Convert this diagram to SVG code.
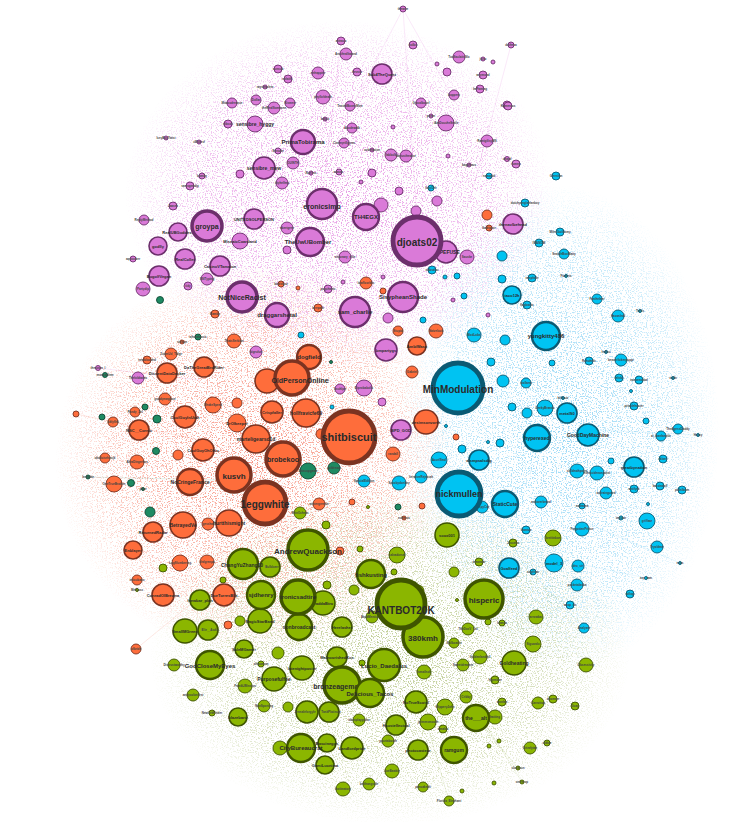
<svg xmlns="http://www.w3.org/2000/svg" width="755" height="822" viewBox="0 0 755 822">
<style>
.p{fill:#da7ad8;stroke:#6c2f6c}
.o{fill:#fe6d3b;stroke:#7b3321}
.b{fill:#00c3f2;stroke:#0b5a73}
.g{fill:#8bb600;stroke:#3f5500}
.t{fill:#1f8a62;stroke:#0f4a35}
circle{stroke-width:0.9}
.w2{stroke-width:1.6}.w3{stroke-width:2.4}.w4{stroke-width:3.5}.w5{stroke-width:4.8}
text{font-family:"Liberation Sans",Arial,sans-serif;font-weight:bold;fill:#2a2a2a;text-anchor:middle;dominant-baseline:central}
.f3{font-size:3px;fill:#444}.f4{font-size:4px}.f5{font-size:5px}.f6{font-size:6px}.f7{font-size:7px}.f8{font-size:8px}.f9{font-size:9px}.f10{font-size:10px}.f11{font-size:11px}
#edges line{stroke-width:0.5;stroke-opacity:0.25}
</style>
<defs>
<filter id="sP" filterUnits="userSpaceOnUse" x="0" y="0" width="755" height="822"><feTurbulence type="fractalNoise" baseFrequency="0.8" numOctaves="2" seed="3" result="n"/><feColorMatrix in="n" type="matrix" values="0 0 0 0 0 0 0 0 0 0 0 0 0 0 0 8 0 0 0 -4.3" result="m"/><feComposite in="SourceGraphic" in2="m" operator="in"/></filter>
<filter id="sO" filterUnits="userSpaceOnUse" x="0" y="0" width="755" height="822"><feTurbulence type="fractalNoise" baseFrequency="0.8" numOctaves="2" seed="11" result="n"/><feColorMatrix in="n" type="matrix" values="0 0 0 0 0 0 0 0 0 0 0 0 0 0 0 8 0 0 0 -4.3" result="m"/><feComposite in="SourceGraphic" in2="m" operator="in"/></filter>
<filter id="sB" filterUnits="userSpaceOnUse" x="0" y="0" width="755" height="822"><feTurbulence type="fractalNoise" baseFrequency="0.8" numOctaves="2" seed="23" result="n"/><feColorMatrix in="n" type="matrix" values="0 0 0 0 0 0 0 0 0 0 0 0 0 0 0 8 0 0 0 -4.3" result="m"/><feComposite in="SourceGraphic" in2="m" operator="in"/></filter>
<filter id="sG" filterUnits="userSpaceOnUse" x="0" y="0" width="755" height="822"><feTurbulence type="fractalNoise" baseFrequency="0.8" numOctaves="2" seed="37" result="n"/><feColorMatrix in="n" type="matrix" values="0 0 0 0 0 0 0 0 0 0 0 0 0 0 0 8 0 0 0 -4.3" result="m"/><feComposite in="SourceGraphic" in2="m" operator="in"/></filter>
<radialGradient id="gP"><stop offset="0" stop-color="#d85ad4" stop-opacity="0.6"/><stop offset="0.7" stop-color="#d85ad4" stop-opacity="0.35"/><stop offset="1" stop-color="#d85ad4" stop-opacity="0"/></radialGradient>
<radialGradient id="gO"><stop offset="0" stop-color="#f24a2c" stop-opacity="0.6"/><stop offset="0.7" stop-color="#f24a2c" stop-opacity="0.32"/><stop offset="1" stop-color="#f24a2c" stop-opacity="0"/></radialGradient>
<radialGradient id="gB"><stop offset="0" stop-color="#44b8ee" stop-opacity="0.55"/><stop offset="0.7" stop-color="#44b8ee" stop-opacity="0.3"/><stop offset="1" stop-color="#44b8ee" stop-opacity="0"/></radialGradient>
<radialGradient id="gG"><stop offset="0" stop-color="#90a848" stop-opacity="0.6"/><stop offset="0.7" stop-color="#90a848" stop-opacity="0.32"/><stop offset="1" stop-color="#90a848" stop-opacity="0"/></radialGradient>
</defs>
<rect width="755" height="822" fill="#ffffff"/>
<g id="cloud">
<ellipse cx="340" cy="195" rx="215" ry="175" fill="url(#gP)" filter="url(#sP)"/>
<ellipse cx="255" cy="460" rx="200" ry="195" fill="url(#gO)" filter="url(#sO)"/>
<ellipse cx="560" cy="430" rx="160" ry="245" fill="url(#gB)" filter="url(#sB)"/>
<ellipse cx="390" cy="655" rx="240" ry="170" fill="url(#gG)" filter="url(#sG)"/>
</g>
<g id="edges">
<line x1="403" y1="9" x2="350" y2="110" stroke="#d64fd0"/>
<line x1="403" y1="9" x2="460" y2="110" stroke="#d64fd0"/>
<line x1="403" y1="9" x2="417" y2="220" stroke="#d64fd0"/>
<line x1="341" y1="41" x2="322" y2="200" stroke="#d64fd0"/>
<line x1="511" y1="45" x2="470" y2="200" stroke="#d64fd0"/>
<line x1="166" y1="138" x2="250" y2="240" stroke="#d64fd0"/>
<line x1="199" y1="142" x2="262" y2="230" stroke="#d64fd0"/>
<line x1="98" y1="368" x2="200" y2="380" stroke="#d64fd0"/>
<line x1="76" y1="414" x2="200" y2="440" stroke="#f2452a"/>
<line x1="88" y1="477" x2="220" y2="480" stroke="#1f8a62"/>
<line x1="136" y1="649" x2="220" y2="580" stroke="#f2452a"/>
<line x1="698" y1="435" x2="600" y2="430" stroke="#3cb6ee"/>
<line x1="680" y1="563" x2="580" y2="520" stroke="#3cb6ee"/>
<line x1="646" y1="578" x2="560" y2="560" stroke="#3cb6ee"/>
<line x1="584" y1="628" x2="520" y2="560" stroke="#3cb6ee"/>
<line x1="449" y1="801" x2="420" y2="700" stroke="#8aa43a"/>
<line x1="522" y1="782" x2="470" y2="700" stroke="#8aa43a"/>
<line x1="518" y1="768" x2="476" y2="718" stroke="#8aa43a"/>
</g>
<g id="nodes">
<g id="p46"><circle class="p" cx="403" cy="9" r="3"/><text class="f3" x="403" y="9">thewire</text></g>
<g id="p47"><circle class="p" cx="341" cy="41" r="4"/><text class="f3" x="341" y="41">minaco</text></g>
<g id="p48"><circle class="p" cx="413" cy="45" r="4"/><text class="f3" x="413" y="45">kolbo</text></g>
<g id="p91"><circle class="p" cx="511" cy="45" r="3"/><text class="f3" x="511" y="45">dothesa</text></g>
<g id="p51"><circle class="p" cx="483" cy="59" r="2"/><text class="f3" x="483" y="59">jivsu</text></g>
<g id="p52"><circle class="p" cx="493" cy="62" r="2"/></g>
<g id="p53"><circle class="p" cx="437" cy="64" r="2"/></g>
<g id="p35"><circle class="p" cx="278" cy="69" r="4"/><text class="f3" x="278" y="69">sunsub</text></g>
<g id="p36"><circle class="p" cx="288" cy="79" r="4"/><text class="f3" x="288" y="79">nofaith_</text></g>
<g id="p37"><circle class="p" cx="265" cy="87" r="2"/><text class="f3" x="265" y="87">raysimplem</text></g>
<g id="p55"><circle class="p" cx="357" cy="72" r="4"/><text class="f3" x="357" y="72">hevsto</text></g>
<g id="p57"><circle class="p" cx="447" cy="72" r="4"/></g>
<g id="p58"><circle class="p" cx="483" cy="75" r="4"/><text class="f3" x="483" y="75">wrymond</text></g>
<g id="p63"><circle class="p" cx="480" cy="89" r="4"/><text class="f3" x="480" y="89">ImFaming</text></g>
<g id="p64"><circle class="p" cx="507" cy="105" r="4"/></g>
<g id="p92"><circle class="p" cx="508" cy="106" r="4"/><text class="f3" x="508" y="106">Kamerous</text></g>
<g id="p67"><circle class="p" cx="393" cy="127" r="2"/></g>
<g id="p68"><circle class="p" cx="431" cy="116" r="2"/><text class="f3" x="431" y="116">pezzn</text></g>
<g id="p70"><circle class="p" cx="325" cy="119" r="2"/><text class="f3" x="325" y="119">ladpix</text></g>
<g id="p72"><circle class="p" cx="372" cy="150" r="2"/><text class="f3" x="372" y="150">ovdrnaxion</text></g>
<g id="p75"><circle class="p" cx="448" cy="156" r="2"/></g>
<g id="p76"><circle class="p" cx="469" cy="165" r="2"/><text class="f3" x="469" y="165">bagohaus</text></g>
<g id="p78"><circle class="p" cx="507" cy="159" r="2.5"/><text class="f3" x="507" y="159">chayd</text></g>
<g id="p79"><circle class="p" cx="516" cy="164" r="4"/><text class="f3" x="516" y="164">fumep</text></g>
<g id="p81"><circle class="p" cx="311" cy="173" r="2"/><text class="f3" x="311" y="173">Nuelrvs</text></g>
<g id="p82"><circle class="p" cx="339" cy="172" r="3"/><text class="f3" x="339" y="172">aoauw_</text></g>
<g id="p83"><circle class="p" cx="372" cy="173" r="4"/></g>
<g id="p84"><circle class="p" cx="361" cy="182" r="2"/></g>
<g id="p86"><circle class="p" cx="399" cy="191" r="4"/></g>
<g id="p87"><circle class="p" cx="437" cy="201" r="5"/></g>
<g id="p89"><circle class="p" cx="416" cy="211" r="5"/></g>
<g id="p38"><circle class="p" cx="166" cy="138" r="2"/><text class="f3" x="166" y="138">IceyBoyTwist</text></g>
<g id="p39"><circle class="p" cx="199" cy="142" r="2"/><text class="f3" x="199" y="142">cWotesf</text></g>
<g id="p40"><circle class="p" cx="278" cy="151" r="3"/><text class="f3" x="278" y="151">Sinsuke</text></g>
<g id="p41"><circle class="p" cx="240" cy="174" r="4"/></g>
<g id="p43"><circle class="p" cx="202" cy="176" r="3"/><text class="f3" x="202" y="176">bomby</text></g>
<g id="p44"><circle class="p" cx="190" cy="186" r="4"/><text class="f3" x="190" y="186">samvgmidtp</text></g>
<g id="p24"><circle class="p" cx="173" cy="206" r="4"/><text class="f3" x="173" y="206">Jaasek</text></g>
<g id="p25"><circle class="p" cx="133" cy="259" r="3"/><text class="f3" x="133" y="259">aqstocker</text></g>
<g id="p28"><circle class="p" cx="98" cy="368" r="2.5"/><text class="f3" x="98" y="368">thesovm_l</text></g>
<g id="p95"><circle class="p" cx="287" cy="250" r="4"/></g>
<g id="p97"><circle class="p" cx="383" cy="277" r="2"/></g>
<g id="p98"><circle class="p" cx="343" cy="282" r="2"/></g>
<g id="p100"><circle class="p" cx="453" cy="300" r="2"/></g>
<g id="p101"><circle class="p" cx="488" cy="315" r="2"/></g>
<g id="p102"><circle class="p" cx="388" cy="318" r="5"/></g>
<g id="p106"><circle class="p" cx="382" cy="402" r="4"/></g>
<g id="o18"><circle class="o" cx="76" cy="414" r="3"/></g>
<g id="o39"><circle class="o" cx="182" cy="342" r="2"/><text class="f3" x="182" y="342">sizlapn</text></g>
<g id="o38"><circle class="o" cx="281" cy="284" r="3"/><text class="f3" x="281" y="284">bizdsfgsz</text></g>
<g id="o37"><circle class="o" cx="215" cy="314" r="4"/><text class="f3" x="215" y="314">Bamby</text></g>
<g id="o41"><circle class="o" cx="147" cy="360" r="4"/><text class="f3" x="147" y="360">newblooded</text></g>
<g id="o49"><circle class="o" cx="321" cy="434" r="5"/></g>
<g id="o52"><circle class="o" cx="456" cy="437" r="3"/></g>
<g id="o54"><circle class="o" cx="352" cy="502" r="3"/></g>
<g id="o55"><circle class="o" cx="422" cy="506" r="3"/></g>
<g id="o56"><circle class="o" cx="404" cy="518" r="2"/><text class="f3" x="404" y="518">noheros</text></g>
<g id="o57"><circle class="o" cx="340" cy="551" r="4"/></g>
<g id="o59"><circle class="o" cx="383" cy="291" r="3"/></g>
<g id="o60"><circle class="o" cx="298" cy="288" r="2"/></g>
<g id="o62"><circle class="o" cx="318" cy="308" r="4"/><text class="f3" x="318" y="308">brrrpath</text></g>
<g id="o63"><circle class="o" cx="398" cy="331" r="5"/><text class="f3" x="398" y="331">Stupid</text></g>
<g id="o67"><circle class="o" cx="487" cy="215" r="5"/></g>
<g id="o68"><circle class="o" cx="489" cy="228" r="3"/><text class="f3" x="489" y="228">Ibaktpoor</text></g>
<g id="o34"><circle class="o" cx="228" cy="625" r="4"/></g>
<g id="o35"><circle class="o" cx="136" cy="649" r="5"/><text class="f3" x="136" y="649">ofbride</text></g>
<g id="o31"><circle class="o" cx="137" cy="580" r="5"/><text class="f3" x="137" y="580">ieticubano</text></g>
<g id="t3"><circle class="t" cx="160" cy="300" r="3.5"/></g>
<g id="t4"><circle class="t" cx="198" cy="337" r="3"/><text class="f3" x="198" y="337">whoralcosis</text></g>
<g id="t5"><circle class="t" cx="105" cy="375" r="2.5"/><text class="f3" x="105" y="375">monooblem</text></g>
<g id="t6"><circle class="t" cx="145" cy="407" r="3"/></g>
<g id="t7"><circle class="t" cx="102" cy="417" r="3"/></g>
<g id="t8"><circle class="t" cx="157" cy="419" r="4"/></g>
<g id="t9"><circle class="t" cx="156" cy="451" r="3.5"/></g>
<g id="t10"><circle class="t" cx="131" cy="483" r="3.5"/></g>
<g id="t11"><circle class="t" cx="88" cy="477" r="2"/><text class="f3" x="88" y="477">lenfydar</text></g>
<g id="t12"><circle class="t" cx="143" cy="489" r="1.5"/><text class="f3" x="143" y="489">phoe</text></g>
<g id="t13"><circle class="t" cx="150" cy="512" r="5"/></g>
<g id="t14"><circle class="t" cx="398" cy="507" r="3"/></g>
<g id="t15"><circle class="t" cx="331" cy="362" r="1.5"/></g>
<g id="b10"><circle class="b" cx="512" cy="407" r="4"/></g>
<g id="b11"><circle class="b" cx="527" cy="413" r="5"/></g>
<g id="b12"><circle class="b" cx="634" cy="406" r="4"/><text class="f3" x="634" y="406">prinplehuster</text></g>
<g id="b13"><circle class="b" cx="646" cy="421" r="3"/></g>
<g id="b14"><circle class="b" cx="661" cy="436" r="5"/><text class="f3" x="661" y="436">ai_ibanfanstle</text></g>
<g id="b15"><circle class="b" cx="678" cy="429" r="5"/><text class="f3" x="678" y="429">TheAgessDaddy</text></g>
<g id="b16"><circle class="b" cx="698" cy="435" r="1.5"/><text class="f3" x="698" y="435">Hnroy</text></g>
<g id="b17"><circle class="b" cx="611" cy="461" r="3"/></g>
<g id="b19"><circle class="b" cx="663" cy="459" r="4"/><text class="f3" x="663" y="459">rkloer</text></g>
<g id="b23"><circle class="b" cx="634" cy="489" r="4"/><text class="f3" x="634" y="489">antifyrk</text></g>
<g id="b24"><circle class="b" cx="660" cy="486" r="4"/><text class="f3" x="660" y="486">kassindoll</text></g>
<g id="b25"><circle class="b" cx="682" cy="490" r="4"/><text class="f3" x="682" y="490">pixlnlbom</text></g>
<g id="b27"><circle class="b" cx="582" cy="506" r="3"/><text class="f3" x="582" y="506">nodrama</text></g>
<g id="b28"><circle class="b" cx="648" cy="504" r="1.5"/></g>
<g id="b29"><circle class="b" cx="621" cy="518" r="2"/><text class="f3" x="621" y="518">tmjutar</text></g>
<g id="b31"><circle class="b" cx="526" cy="530" r="4"/><text class="f3" x="526" y="530">thanivo</text></g>
<g id="b35"><circle class="b" cx="533" cy="572" r="3"/><text class="f3" x="533" y="572">oogfitan</text></g>
<g id="b39"><circle class="b" cx="680" cy="563" r="1.5"/><text class="f3" x="680" y="563">exos</text></g>
<g id="b40"><circle class="b" cx="646" cy="578" r="1.5"/><text class="f3" x="646" y="578">asy_tam</text></g>
<g id="b41"><circle class="b" cx="630" cy="594" r="4"/><text class="f3" x="630" y="594">atflop</text></g>
<g id="b42"><circle class="b" cx="570" cy="605" r="4"/><text class="f3" x="570" y="605">wasp_ds</text></g>
<g id="b43"><circle class="b" cx="584" cy="628" r="5"/><text class="f3" x="584" y="628">Analyzer</text></g>
<g id="b44"><circle class="b" cx="525" cy="203" r="4"/><text class="f3" x="525" y="203">dutchyanglarfanboy</text></g>
<g id="b45"><circle class="b" cx="560" cy="232" r="4"/><text class="f3" x="560" y="232">MilesGuildsmy</text></g>
<g id="b46"><circle class="b" cx="539" cy="243" r="4"/><text class="f3" x="539" y="243">IWASOW</text></g>
<g id="b47"><circle class="b" cx="564" cy="254" r="5"/><text class="f3" x="564" y="254">SnatchBoxMatty</text></g>
<g id="b48"><circle class="b" cx="502" cy="256" r="5"/></g>
<g id="b49"><circle class="b" cx="566" cy="276" r="1.5"/><text class="f3" x="566" y="276">Fivelets</text></g>
<g id="b50"><circle class="b" cx="532" cy="278" r="4"/><text class="f3" x="532" y="278">tempfalle</text></g>
<g id="b51"><circle class="b" cx="502" cy="279" r="4"/></g>
<g id="b52"><circle class="b" cx="527" cy="305" r="4"/><text class="f3" x="527" y="305">flagbatrix</text></g>
<g id="b53"><circle class="b" cx="597" cy="299" r="5"/><text class="f3" x="597" y="299">Fantheleer</text></g>
<g id="b54"><circle class="b" cx="618" cy="316" r="6"/><text class="f3" x="618" y="316">Hasanlnal</text></g>
<g id="b55"><circle class="b" cx="640" cy="311" r="1.5"/><text class="f3" x="640" y="311">Tnrlis</text></g>
<g id="b56"><circle class="b" cx="505" cy="340" r="5"/></g>
<g id="b57"><circle class="b" cx="552" cy="363" r="3"/></g>
<g id="b58"><circle class="b" cx="589" cy="361" r="4"/><text class="f3" x="589" y="361">Ruhuhefs</text></g>
<g id="b59"><circle class="b" cx="606" cy="352" r="1.5"/><text class="f3" x="606" y="352">fedlou</text></g>
<g id="b60"><circle class="b" cx="621" cy="360" r="6"/><text class="f3" x="621" y="360">beaverlickerpuppr</text></g>
<g id="b61"><circle class="b" cx="503" cy="381" r="6"/></g>
<g id="b62"><circle class="b" cx="526" cy="383" r="5"/><text class="f3" x="526" y="383">stollarm</text></g>
<g id="b63"><circle class="b" cx="619" cy="378" r="4"/><text class="f3" x="619" y="378">reltrbi</text></g>
<g id="b64"><circle class="b" cx="639" cy="380" r="4"/><text class="f3" x="639" y="380">nonsenstbal</text></g>
<g id="b65"><circle class="b" cx="673" cy="378" r="1.5"/><text class="f3" x="673" y="378">viciln</text></g>
<g id="b66"><circle class="b" cx="631" cy="391" r="1.5"/></g>
<g id="b67"><circle class="b" cx="563" cy="398" r="1.5"/><text class="f3" x="563" y="398">hnlnsor</text></g>
<g id="b68"><circle class="b" cx="556" cy="176" r="4"/><text class="f3" x="556" y="176">Gleesfan</text></g>
<g id="b69"><circle class="b" cx="489" cy="176" r="3"/><text class="f3" x="489" y="176">nataqaid</text></g>
<g id="b70"><circle class="b" cx="431" cy="188" r="3"/><text class="f3" x="431" y="188">ItalyOrlr</text></g>
<g id="b71"><circle class="b" cx="432" cy="270" r="4"/><text class="f3" x="432" y="270">clabsdou</text></g>
<g id="b72"><circle class="b" cx="457" cy="276" r="3"/></g>
<g id="b73"><circle class="b" cx="445" cy="277" r="2"/></g>
<g id="b75"><circle class="b" cx="464" cy="296" r="3"/></g>
<g id="b76"><circle class="b" cx="423" cy="320" r="3"/></g>
<g id="b79"><circle class="b" cx="301" cy="335" r="3"/></g>
<g id="b80"><circle class="b" cx="491" cy="362" r="4"/></g>
<g id="b82"><circle class="b" cx="332" cy="407" r="2"/></g>
<g id="b84"><circle class="b" cx="462" cy="449" r="4"/></g>
<g id="b86"><circle class="b" cx="500" cy="443" r="4"/></g>
<g id="b87"><circle class="b" cx="488" cy="442" r="1.5"/></g>
<g id="b88"><circle class="b" cx="446" cy="426" r="1.5"/></g>
<g id="g85"><circle class="g" cx="394" cy="572" r="3"/></g>
<g id="g86"><circle class="g" cx="360" cy="549" r="3"/></g>
<g id="g87"><circle class="g" cx="261" cy="664" r="3"/><text class="f3" x="261" y="664">oleaumum</text></g>
<g id="g88"><circle class="g" cx="362" cy="663" r="3"/></g>
<g id="g89"><circle class="g" cx="223" cy="580" r="3"/></g>
<g id="g90"><circle class="g" cx="488" cy="622" r="3"/></g>
<g id="g91"><circle class="g" cx="502" cy="623" r="3"/><text class="f3" x="502" y="623">fuanda</text></g>
<g id="g92"><circle class="g" cx="547" cy="743" r="3"/><text class="f3" x="547" y="743">oldtoe</text></g>
<g id="g94"><circle class="g" cx="489" cy="746" r="2"/></g>
<g id="g95"><circle class="g" cx="499" cy="741" r="2"/></g>
<g id="g96"><circle class="g" cx="462" cy="791" r="2"/></g>
<g id="g97"><circle class="g" cx="494" cy="783" r="2"/></g>
<g id="g98"><circle class="g" cx="518" cy="768" r="2"/><text class="f3" x="518" y="768">clocksun</text></g>
<g id="g99"><circle class="g" cx="522" cy="782" r="2"/><text class="f3" x="522" y="782">onfrerop</text></g>
<g id="g101"><circle class="g" cx="137" cy="590" r="1.5"/><text class="f3" x="137" y="590">MelCass</text></g>
<g id="g102"><circle class="g" cx="368" cy="507" r="1.5"/></g>
<g id="g103"><circle class="g" cx="457" cy="600" r="1.5"/></g>
<g id="g75"><circle class="g" cx="212" cy="713" r="3"/><text class="f3" x="212" y="713">NewOrkFinder</text></g>
<g id="g76"><circle class="g" cx="163" cy="568" r="4"/></g>
<g id="g77"><circle class="g" cx="326" cy="525" r="4"/></g>
<g id="g78"><circle class="g" cx="327" cy="585" r="4"/></g>
<g id="g79"><circle class="g" cx="479" cy="562" r="4"/><text class="f3" x="479" y="562">ereoeobr</text></g>
<g id="g80"><circle class="g" cx="495" cy="680" r="4"/><text class="f3" x="495" y="680">hlgenbee</text></g>
<g id="g81"><circle class="g" cx="502" cy="702" r="4"/><text class="f3" x="502" y="702">wonfan</text></g>
<g id="g82"><circle class="g" cx="553" cy="699" r="4"/><text class="f3" x="553" y="699">doomser</text></g>
<g id="g83"><circle class="g" cx="575" cy="706" r="4"/><text class="f3" x="575" y="706">Guay</text></g>
<g id="g84"><circle class="g" cx="513" cy="543" r="4"/><text class="f3" x="513" y="543">Jeccebo</text></g>
<g id="g93"><circle class="g" cx="443" cy="729" r="4"/><text class="f3" x="443" y="729">dmaldu</text></g>
<g id="p49"><circle class="p" cx="346" cy="54" r="6"/><text class="f3" x="346" y="54">Anuthralltwand</text></g>
<g id="p50"><circle class="p" cx="459" cy="57" r="6"/><text class="f3" x="459" y="57">TooSaclaitsSlo</text></g>
<g id="p54"><circle class="p" cx="318" cy="73" r="6"/><text class="f3" x="318" y="73">enhappier</text></g>
<g id="p59"><circle class="p" cx="323" cy="97" r="7"/><text class="f3" x="323" y="97">phyllofdeath</text></g>
<g id="p60"><circle class="p" cx="290" cy="103" r="5"/><text class="f3" x="290" y="103">Kismetr</text></g>
<g id="p61"><circle class="p" cx="350" cy="106" r="5"/><text class="f3" x="350" y="106">TentedBoxesMine</text></g>
<g id="p62"><circle class="p" cx="454" cy="95" r="5"/><text class="f3" x="454" y="95">boppers</text></g>
<g id="p65"><circle class="p" cx="421" cy="103" r="5"/><text class="f3" x="421" y="103">Gjocalbourf</text></g>
<g id="p66"><circle class="p" cx="352" cy="128" r="5"/><text class="f3" x="352" y="128">Abodewalk</text></g>
<g id="p69"><circle class="p" cx="446" cy="123" r="8"/><text class="f3" x="446" y="123">iAmDoucheSmile</text></g>
<g id="p71"><circle class="p" cx="344" cy="143" r="5"/><text class="f3" x="344" y="143">CinrmyrtIlgyem</text></g>
<g id="p73"><circle class="p" cx="391" cy="155" r="6"/><text class="f3" x="391" y="155">fabbulk</text></g>
<g id="p74"><circle class="p" cx="406" cy="156" r="6"/><text class="f3" x="406" y="156">dariusthewise</text></g>
<g id="p77"><circle class="p" cx="487" cy="141" r="6"/><text class="f3" x="487" y="141">RamigilisyMS</text></g>
<g id="p80"><circle class="p" cx="293" cy="163" r="6"/><text class="f3" x="293" y="163">OUINTH</text></g>
<g id="p88"><circle class="p" cx="381" cy="205" r="7"/></g>
<g id="p31"><circle class="p" cx="274" cy="108" r="6"/><text class="f3" x="274" y="108">theRealSomeone</text></g>
<g id="p32"><circle class="p" cx="256" cy="100" r="5"/><text class="f3" x="256" y="100">Dollar</text></g>
<g id="p33"><circle class="p" cx="232" cy="103" r="5"/><text class="f3" x="232" y="103">Mtwoodreasue</text></g>
<g id="p34"><circle class="p" cx="228" cy="124" r="4"/><text class="f3" x="228" y="124">nibsolt</text></g>
<g id="p42"><circle class="p" cx="282" cy="183" r="6"/><text class="f3" x="282" y="183">ittyhelfmy</text></g>
<g id="p23"><circle class="p" cx="144" cy="220" r="5"/><text class="f3" x="144" y="220">ReplyMethod</text></g>
<g id="p20"><circle class="p" cx="143" cy="289" r="7"/><text class="f3" x="143" y="289">Partydip</text></g>
<g id="p21"><circle class="p" cx="207" cy="279" r="6"/><text class="f3" x="207" y="279">SSITyping</text></g>
<g id="p22"><circle class="p" cx="188" cy="286" r="4"/><text class="f3" x="188" y="286">tidy</text></g>
<g id="p26"><circle class="p" cx="256" cy="352" r="6"/><text class="f3" x="256" y="352">bigrufue</text></g>
<g id="p27"><circle class="p" cx="138" cy="378" r="6"/><text class="f3" x="138" y="378">Thefoldtwins</text></g>
<g id="p94"><circle class="p" cx="287" cy="228" r="6"/><text class="f3" x="287" y="228">abertgree</text></g>
<g id="p96"><circle class="p" cx="345" cy="257" r="6"/><text class="f3" x="345" y="257">visionary_elite</text></g>
<g id="p99"><circle class="p" cx="328" cy="289" r="4"/><text class="f3" x="328" y="289">pogchanic</text></g>
<g id="p12"><circle class="p" cx="467" cy="257" r="7"/><text class="f3" x="467" y="257">Sauske</text></g>
<g id="p104"><circle class="p" cx="340" cy="389" r="5"/><text class="f3" x="340" y="389">bsuhlpn</text></g>
<g id="p105"><circle class="p" cx="364" cy="388" r="8"/><text class="f3" x="364" y="388">Diprobabolic</text></g>
<g id="p16"><circle class="p" cx="240" cy="241" r="8"/><text class="f4" x="240" y="241">MiseaicCowsland</text></g>
<g id="p30"><circle class="p" cx="255" cy="124" r="8"/><text class="f5" x="255" y="124">sensibre_hyggy</text></g>
<g id="o16"><circle class="o" cx="113" cy="422" r="5"/><text class="f3" x="113" y="422">bkfyflrk</text></g>
<g id="o17"><circle class="o" cx="135" cy="412" r="5"/><text class="f3" x="135" y="412">Pandy_Zel</text></g>
<g id="o19"><circle class="o" cx="178" cy="455" r="5"/></g>
<g id="o20"><circle class="o" cx="105" cy="458" r="5"/><text class="f3" x="105" y="458">okolicisrfsnsjk</text></g>
<g id="o21"><circle class="o" cx="137" cy="462" r="7"/><text class="f3" x="137" y="462">AltraDingerhus</text></g>
<g id="o23"><circle class="o" cx="114" cy="484" r="8"/><text class="f3" x="114" y="484">OneTrueBrother</text></g>
<g id="o25"><circle class="o" cx="208" cy="524" r="6"/><text class="f3" x="208" y="524">gesshal</text></g>
<g id="o29"><circle class="o" cx="180" cy="563" r="8"/><text class="f3" x="180" y="563">LugSlumbering</text></g>
<g id="o30"><circle class="o" cx="207" cy="562" r="7"/><text class="f3" x="207" y="562">drdgrenpa</text></g>
<g id="o36"><circle class="o" cx="234" cy="341" r="7"/><text class="f3" x="234" y="341">ThatsSerbian</text></g>
<g id="o40"><circle class="o" cx="171" cy="354" r="6"/><text class="f3" x="171" y="354">ZoomUd_Tidge</text></g>
<g id="o44"><circle class="o" cx="165" cy="399" r="6"/><text class="f3" x="165" y="399">goodyearglove</text></g>
<g id="o46"><circle class="o" cx="237" cy="403" r="5"/></g>
<g id="o13"><circle class="o" cx="213" cy="405" r="8"/><text class="f3" x="213" y="405">ShakeSpeed</text></g>
<g id="o14"><circle class="o" cx="237" cy="423" r="9"/><text class="f4" x="237" y="423">DrOlkeeper</text></g>
<g id="o51"><circle class="o" cx="393" cy="454" r="7"/><text class="f3" x="393" y="454">randall</text></g>
<g id="o53"><circle class="o" cx="319" cy="504" r="6"/><text class="f3" x="319" y="504">wintergreenie</text></g>
<g id="o58"><circle class="o" cx="366" cy="283" r="6"/><text class="f3" x="366" y="283">lowfloorbhs</text></g>
<g id="o64"><circle class="o" cx="436" cy="331" r="7"/><text class="f3" x="436" y="331">Naivelook</text></g>
<g id="o66"><circle class="o" cx="412" cy="372" r="6"/><text class="f3" x="412" y="372">Gabriel</text></g>
<g id="t1"><circle class="t" cx="308" cy="471" r="8"/><text class="f3" x="308" y="471">Wassupgawe</text></g>
<g id="t2"><circle class="t" cx="334" cy="468" r="6"/><text class="f3" x="334" y="468">goldreact</text></g>
<g id="b20"><circle class="b" cx="577" cy="471" r="7"/><text class="f3" x="577" y="471">stilldeathpoint</text></g>
<g id="b21"><circle class="b" cx="597" cy="473" r="7"/><text class="f3" x="597" y="473">exhiscidenonpoint</text></g>
<g id="b22"><circle class="b" cx="606" cy="493" r="6"/><text class="f3" x="606" y="493">aultrainguard</text></g>
<g id="b26"><circle class="b" cx="541" cy="502" r="6"/><text class="f3" x="541" y="502">andoverbeard</text></g>
<g id="b30"><circle class="b" cx="647" cy="521" r="8"/><text class="f3" x="647" y="521">griffaar</text></g>
<g id="b32"><circle class="b" cx="582" cy="529" r="7"/><text class="f3" x="582" y="529">ForgottenPrince</text></g>
<g id="b33"><circle class="b" cx="657" cy="547" r="6"/><text class="f3" x="657" y="547">Tryoldme</text></g>
<g id="b37"><circle class="b" cx="578" cy="566" r="6"/><text class="f3" x="578" y="566">dec_sir</text></g>
<g id="b38"><circle class="b" cx="577" cy="585" r="6"/><text class="f3" x="577" y="585">pocketalaska</text></g>
<g id="b8"><circle class="b" cx="545" cy="408" r="8"/><text class="f3" x="545" y="408">GeekyBrands</text></g>
<g id="b77"><circle class="b" cx="474" cy="335" r="7"/><text class="f3" x="474" y="335">ModLobs</text></g>
<g id="b83"><circle class="b" cx="439" cy="460" r="8"/><text class="f3" x="439" y="460">AccelSeal</text></g>
<g id="b89"><circle class="b" cx="364" cy="481" r="6"/><text class="f3" x="364" y="481">SpecialEdition</text></g>
<g id="b90"><circle class="b" cx="399" cy="483" r="7"/><text class="f3" x="399" y="483">Scoobydonkey</text></g>
<g id="b91"><circle class="b" cx="421" cy="477" r="6"/><text class="f3" x="421" y="477">IterativeRejectah</text></g>
<g id="b92"><circle class="b" cx="482" cy="507" r="6"/><text class="f3" x="482" y="507">CrispyCat</text></g>
<g id="b36"><circle class="b" cx="554" cy="563" r="9"/><text class="f4" x="554" y="563">model_3</text></g>
<g id="g39"><circle class="g" cx="397" cy="555" r="8"/><text class="f3" x="397" y="555">salvadorsal</text></g>
<g id="g40"><circle class="g" cx="553" cy="538" r="8"/><text class="f3" x="553" y="538">breitinbon</text></g>
<g id="g41"><circle class="g" cx="445" cy="707" r="8"/><text class="f3" x="445" y="707">SlipperyJohn</text></g>
<g id="g42"><circle class="g" cx="428" cy="722" r="8"/><text class="f3" x="428" y="722">grimmsmooth</text></g>
<g id="g43"><circle class="g" cx="480" cy="657" r="7"/><text class="f3" x="480" y="657">Goldenlandfall</text></g>
<g id="g44"><circle class="g" cx="533" cy="644" r="8"/><text class="f3" x="533" y="644">Siguardo</text></g>
<g id="g45"><circle class="g" cx="536" cy="617" r="7"/><text class="f3" x="536" y="617">arrowbar</text></g>
<g id="g46"><circle class="g" cx="424" cy="672" r="7"/><text class="f3" x="424" y="672">Ismailnok</text></g>
<g id="g47"><circle class="g" cx="245" cy="686" r="7"/><text class="f3" x="245" y="686">FrankLWinston</text></g>
<g id="g48"><circle class="g" cx="280" cy="748" r="7"/></g>
<g id="g49"><circle class="g" cx="392" cy="771" r="7"/><text class="f3" x="392" y="771">JoeBawkie</text></g>
<g id="g50"><circle class="g" cx="343" cy="789" r="7"/><text class="f3" x="343" y="789">laxtimatory</text></g>
<g id="g51"><circle class="g" cx="586" cy="665" r="7"/><text class="f3" x="586" y="665">Obsessivity</text></g>
<g id="g52"><circle class="g" cx="174" cy="665" r="6"/><text class="f3" x="174" y="665">Distrustworthy</text></g>
<g id="g53"><circle class="g" cx="193" cy="695" r="6"/><text class="f3" x="193" y="695">andycolonfirst</text></g>
<g id="g54"><circle class="g" cx="264" cy="706" r="6"/><text class="f3" x="264" y="706">NonSporting</text></g>
<g id="g55"><circle class="g" cx="278" cy="653" r="6"/></g>
<g id="g56"><circle class="g" cx="369" cy="784" r="6"/><text class="f3" x="369" y="784">belthangsole</text></g>
<g id="g57"><circle class="g" cx="359" cy="720" r="6"/><text class="f3" x="359" y="720">idontplayguitar</text></g>
<g id="g58"><circle class="g" cx="388" cy="741" r="6"/><text class="f3" x="388" y="741">pourtabooth</text></g>
<g id="g59"><circle class="g" cx="466" cy="697" r="6"/><text class="f3" x="466" y="697">Cribby</text></g>
<g id="g60"><circle class="g" cx="463" cy="665" r="6"/><text class="f3" x="463" y="665">Sweetdreamer</text></g>
<g id="g61"><circle class="g" cx="468" cy="629" r="6"/><text class="f3" x="468" y="629">TheDosV_Cat</text></g>
<g id="g62"><circle class="g" cx="495" cy="717" r="7"/><text class="f3" x="495" y="717">hatting</text></g>
<g id="g63"><circle class="g" cx="372" cy="617" r="6"/><text class="f3" x="372" y="617">BackMentioned</text></g>
<g id="g64"><circle class="g" cx="418" cy="591" r="6"/></g>
<g id="g65"><circle class="g" cx="538" cy="703" r="6"/><text class="f3" x="538" y="703">Carrottop</text></g>
<g id="g66"><circle class="g" cx="530" cy="748" r="6"/><text class="f3" x="530" y="748">Grizzlytan</text></g>
<g id="g67"><circle class="g" cx="300" cy="513" r="6"/><text class="f3" x="300" y="513">ShinOchnas</text></g>
<g id="g68"><circle class="g" cx="240" cy="621" r="5"/></g>
<g id="g69"><circle class="g" cx="423" cy="787" r="5"/><text class="f3" x="423" y="787">pancakedit</text></g>
<g id="g70"><circle class="g" cx="449" cy="801" r="5"/><text class="f3" x="449" y="801">Florida_Elephant</text></g>
<g id="g71"><circle class="g" cx="454" cy="572" r="5"/></g>
<g id="g72"><circle class="g" cx="354" cy="590" r="5"/></g>
<g id="g73"><circle class="g" cx="454" cy="643" r="5"/><text class="f3" x="454" y="643">Sailboatist</text></g>
<g id="g74"><circle class="g" cx="288" cy="707" r="5"/></g>
<g id="p56"><circle class="p w2" cx="382" cy="74" r="10"/><text class="f4" x="382" y="74">Sub4TheQuest</text></g>
<g id="p29"><circle class="p w2" cx="264" cy="168" r="11"/><text class="f5" x="264" y="168">sensibre_mew</text></g>
<g id="p93"><circle class="p w2" cx="513" cy="224" r="10"/><text class="f4" x="513" y="224">thenavlbehead</text></g>
<g id="p13"><circle class="p w2" cx="254" cy="219" r="10"/><text class="f4" x="254" y="219">UNITEDSOLPERSON</text></g>
<g id="p14"><circle class="p w2" cx="178" cy="232" r="9"/><text class="f4" x="178" y="232">RealUBGoddess</text></g>
<g id="p15"><circle class="p w2" cx="158" cy="246" r="9"/><text class="f4" x="158" y="246">godlly</text></g>
<g id="p17"><circle class="p w2" cx="185" cy="259" r="10"/><text class="f4" x="185" y="259">RealCollet</text></g>
<g id="p18"><circle class="p w2" cx="220" cy="266" r="10"/><text class="f4" x="220" y="266">CasinoVTamaion</text></g>
<g id="p19"><circle class="p w2" cx="159" cy="276" r="10"/><text class="f4" x="159" y="276">BogolfVegan</text></g>
<g id="p103"><circle class="p w2" cx="386" cy="350" r="11"/><text class="f4" x="386" y="350">bmpartygs</text></g>
<g id="p107"><circle class="p w2" cx="401" cy="430" r="10"/><text class="f4" x="401" y="430">BPD_GOD</text></g>
<g id="p11"><circle class="p w2" cx="446" cy="252" r="11"/><text class="f5" x="446" y="252">DOPEFUSE</text></g>
<g id="o8"><circle class="o w2" cx="306" cy="413" r="14"/><text class="f5" x="306" y="413">hollfravicfe69</text></g>
<g id="o9"><circle class="o w2" cx="272" cy="412" r="11"/><text class="f4" x="272" y="412">Crispfaller</text></g>
<g id="o10"><circle class="o w2" cx="256" cy="439" r="14"/><text class="f5" x="256" y="439">marteligearsd1d</text></g>
<g id="o11"><circle class="o w2" cx="185" cy="417" r="11"/><text class="f4" x="185" y="417">CoolGuyInUtah</text></g>
<g id="o12"><circle class="o w2" cx="203" cy="450" r="11"/><text class="f4" x="203" y="450">CoolGuyOhOhio</text></g>
<g id="o15"><circle class="o w2" cx="139" cy="430" r="10"/><text class="f4" x="139" y="430">NSC__Cornio</text></g>
<g id="o24"><circle class="o w2" cx="183" cy="525" r="13"/><text class="f5" x="183" y="525">BetrayedVe</text></g>
<g id="o26"><circle class="o w2" cx="229" cy="523" r="13"/><text class="f5" x="229" y="523">hurtthismight</text></g>
<g id="o27"><circle class="o w2" cx="153" cy="532" r="10"/><text class="f4" x="153" y="532">ReturnedRadar</text></g>
<g id="o28"><circle class="o w2" cx="133" cy="550" r="9"/><text class="f4" x="133" y="550">Enblayer</text></g>
<g id="o32"><circle class="o w2" cx="163" cy="595" r="11"/><text class="f4" x="163" y="595">ConradOlBrewna</text></g>
<g id="o33"><circle class="o w2" cx="224" cy="595" r="11"/><text class="f4" x="224" y="595">DoeTorresBlla</text></g>
<g id="o42"><circle class="o w2" cx="204" cy="367" r="10"/><text class="f4" x="204" y="367">DaTheGreatBrdRider</text></g>
<g id="o43"><circle class="o w2" cx="167" cy="373" r="10"/><text class="f4" x="167" y="373">DissentDataDecker</text></g>
<g id="o65"><circle class="o w2" cx="417" cy="346" r="9"/><text class="f4" x="417" y="346">AmbiWasp</text></g>
<g id="o7"><circle class="o w2" cx="267" cy="381" r="12"/></g>
<g id="o6"><circle class="o w3" cx="309" cy="357" r="12"/><text class="f6" x="309" y="357">dogfield</text></g>
<g id="o50"><circle class="o w2" cx="426" cy="422" r="12"/><text class="f4" x="426" y="422">desimsonvorth</text></g>
<g id="o22"><circle class="o w3" cx="190" cy="482" r="13"/><text class="f5" x="190" y="482">NoCringeFrance</text></g>
<g id="b7"><circle class="b w2" cx="567" cy="413" r="10"/><text class="f4" x="567" y="413">metalS0</text></g>
<g id="b9"><circle class="b w2" cx="512" cy="295" r="9"/><text class="f4" x="512" y="295">taco12h</text></g>
<g id="b18"><circle class="b w2" cx="634" cy="467" r="10"/><text class="f4" x="634" y="467">greatbynation</text></g>
<g id="b34"><circle class="b w2" cx="509" cy="568" r="10"/><text class="f4" x="509" y="568">Goalfeed</text></g>
<g id="b85"><circle class="b w2" cx="479" cy="460" r="10"/><text class="f4" x="479" y="460">alsmpsalsdig</text></g>
<g id="b5"><circle class="b w2" cx="588" cy="435" r="11"/><text class="f5" x="588" y="435">GoodDayMachine</text></g>
<g id="b4"><circle class="b w3" cx="537" cy="438" r="13"/><text class="f5" x="537" y="438">hyperexed</text></g>
<g id="b6"><circle class="b w3" cx="505" cy="504" r="13"/><text class="f5" x="505" y="504">StaticCute</text></g>
<g id="g17"><circle class="g w2" cx="323" cy="603" r="12"/><text class="f4" x="323" y="603">DaddaBtro</text></g>
<g id="g18"><circle class="g w2" cx="447" cy="535" r="12"/><text class="f4" x="447" y="535">soox001</text></g>
<g id="g19"><circle class="g w2" cx="514" cy="663" r="12"/><text class="f5" x="514" y="663">Goldheating</text></g>
<g id="g20"><circle class="g w2" cx="274" cy="679" r="12"/><text class="f5" x="274" y="679">Purposefulfoe</text></g>
<g id="g21"><circle class="g w2" cx="302" cy="668" r="12"/><text class="f4" x="302" y="668">latenightposter</text></g>
<g id="g22"><circle class="g w2" cx="260" cy="621" r="12"/><text class="f4" x="260" y="621">MagicStarBand</text></g>
<g id="g23"><circle class="g w2" cx="185" cy="631" r="12"/><text class="f4" x="185" y="631">SmallMGreen</text></g>
<g id="g24"><circle class="g w2" cx="416" cy="702" r="11"/><text class="f4" x="416" y="702">NoTrueScotsl</text></g>
<g id="g25"><circle class="g w2" cx="307" cy="712" r="11"/><text class="f3" x="305" y="712">Jennaleforgyle</text></g>
<g id="g26"><circle class="g w2" cx="352" cy="748" r="11"/><text class="f4" x="352" y="748">Landlordpride</text></g>
<g id="g27"><circle class="g w2" cx="208" cy="630" r="10"/><text class="f3" x="210" y="630">Elie__Asdis</text></g>
<g id="g28"><circle class="g w2" cx="200" cy="600" r="10"/><text class="f4" x="200" y="600">feewbar_plan</text></g>
<g id="g29"><circle class="g w2" cx="270" cy="567" r="10"/><text class="f3" x="272" y="567">Bulldozer</text></g>
<g id="g30"><circle class="g w2" cx="342" cy="627" r="10"/><text class="f4" x="342" y="627">Herelasher</text></g>
<g id="g31"><circle class="g w2" cx="337" cy="657" r="10"/><text class="f4" x="337" y="657">MalnourishedKos</text></g>
<g id="g32"><circle class="g w2" cx="329" cy="712" r="10"/><text class="f3" x="331" y="712">TankPlatinum</text></g>
<g id="g33"><circle class="g w2" cx="396" cy="725" r="10"/><text class="f4" x="396" y="725">Haustellectual</text></g>
<g id="g34"><circle class="g w2" cx="418" cy="750" r="10"/><text class="f4" x="418" y="750">photocasteur</text></g>
<g id="g35"><circle class="g w2" cx="244" cy="649" r="9"/><text class="f4" x="244" y="649">SaleMGamer</text></g>
<g id="g36"><circle class="g w2" cx="238" cy="717" r="9"/><text class="f4" x="238" y="717">blazebartz</text></g>
<g id="g37"><circle class="g w2" cx="327" cy="743" r="9"/><text class="f4" x="327" y="743">Bascineggs</text></g>
<g id="g38"><circle class="g w2" cx="325" cy="765" r="9"/><text class="f4" x="325" y="765">GamiLucnima</text></g>
<g id="g16"><circle class="g w3" cx="299" cy="627" r="13"/><text class="f5" x="299" y="627">oonbroadcast</text></g>
<g id="g14"><circle class="g w3" cx="454" cy="750" r="13"/><text class="f5" x="454" y="750">ramgum</text></g>
<g id="g15"><circle class="g w3" cx="476" cy="718" r="13"/><text class="f5" x="476" y="718">the___alt</text></g>
<g id="p3"><circle class="p w3" cx="303" cy="142" r="12"/><text class="f6" x="303" y="142">PrimaTobirama</text></g>
<g id="p4"><circle class="p w3" cx="366" cy="217" r="13"/><text class="f6" x="366" y="217">TH4EGX</text></g>
<g id="p2"><circle class="p w3" cx="322" cy="204" r="15"/><text class="f7" x="322" y="206">eronicsimp</text></g>
<g id="p5"><circle class="p w3" cx="310" cy="242" r="14"/><text class="f6" x="308" y="242">TheUwUBomber</text></g>
<g id="p6"><circle class="p w4" cx="207" cy="226" r="15"/><text class="f7" x="207" y="226">groypa</text></g>
<g id="p8"><circle class="p w3" cx="277" cy="315" r="12"/><text class="f6" x="277" y="315">draggarshetal</text></g>
<g id="p7"><circle class="p w4" cx="242" cy="297" r="15"/><text class="f7" x="242" y="297">NotNiceRacist</text></g>
<g id="p10"><circle class="p w3" cx="355" cy="312" r="15"/><text class="f6" x="355" y="312">sam_charlie</text></g>
<g id="p9"><circle class="p w3" cx="403" cy="297" r="15"/><text class="f6" x="403" y="297">SisypheanShade</text></g>
<g id="b3"><circle class="b w3" cx="546" cy="336" r="14"/><text class="f6" x="546" y="336">yungkitty486</text></g>
<g id="o3"><circle class="o w4" cx="234" cy="475" r="17"/><text class="f8" x="234" y="476">kusvh</text></g>
<g id="o4"><circle class="o w4" cx="283" cy="459" r="17"/><text class="f7" x="283" y="459">brobekoo</text></g>
<g id="o5"><circle class="o w4" cx="292" cy="378" r="17"/><text class="f7" x="300" y="380">OldPersonOnline</text></g>
<g id="g7"><circle class="g w3" cx="243" cy="564" r="15"/><text class="f5" x="242" y="565">ChangYuZhang10</text></g>
<g id="g12"><circle class="g w3" cx="261" cy="595" r="14"/><text class="f6" x="261" y="595">sjdhenry</text></g>
<g id="g11"><circle class="g w3" cx="210" cy="665" r="14"/><text class="f6" x="210" y="666">GodCloseMyEyes</text></g>
<g id="g13"><circle class="g w3" cx="301" cy="748" r="14"/><text class="f6" x="301" y="748">CityBureaucrat</text></g>
<g id="g9"><circle class="g w3" cx="371" cy="574" r="14"/><text class="f6" x="371" y="575">fishkusting</text></g>
<g id="g6"><circle class="g w4" cx="298" cy="597" r="17"/><text class="f6" x="298" y="597">ironicsadtire</text></g>
<g id="g8"><circle class="g w3" cx="384" cy="665" r="16"/><text class="f6" x="384" y="666">Lucio_Daedalus</text></g>
<g id="g5"><circle class="g w4" cx="342" cy="685" r="18"/><text class="f7" x="342" y="686">bronzeagemantis</text></g>
<g id="g10"><circle class="g w3" cx="370" cy="693" r="14"/><text class="f6" x="370" y="694">Delicious_Tacos</text></g>
<g id="g4"><circle class="g w4" cx="308" cy="550" r="20"/><text class="f8" x="308" y="551">AndrewQuackson</text></g>
<g id="g3"><circle class="g w4" cx="484" cy="599" r="19"/><text class="f8" x="484" y="600">hisperic</text></g>
<g id="g2"><circle class="g w4" cx="423" cy="637" r="20"/><text class="f8" x="423" y="638">380kmh</text></g>
<g id="g1"><circle class="g w5" cx="401" cy="604" r="24"/><text class="f10" x="401" y="610">KANTBOT20K</text></g>
<g id="o2"><circle class="o w5" cx="265" cy="503" r="21"/><text class="f10" x="265" y="504">1eggwhite</text></g>
<g id="o1"><circle class="o w5" cx="349" cy="437" r="26"/><text class="f11" x="349" y="437">shitbiscuit</text></g>
<g id="p1"><circle class="p w5" cx="417" cy="241" r="24"/><text class="f10" x="417" y="242">djoats02</text></g>
<g id="b2"><circle class="b w5" cx="459" cy="494" r="22"/><text class="f9" x="459" y="494">nickmullen</text></g>
<g id="b1"><circle class="b w5" cx="458" cy="388" r="25"/><text class="f10" x="458" y="389">MinModulation</text></g>
</g>
</svg>
